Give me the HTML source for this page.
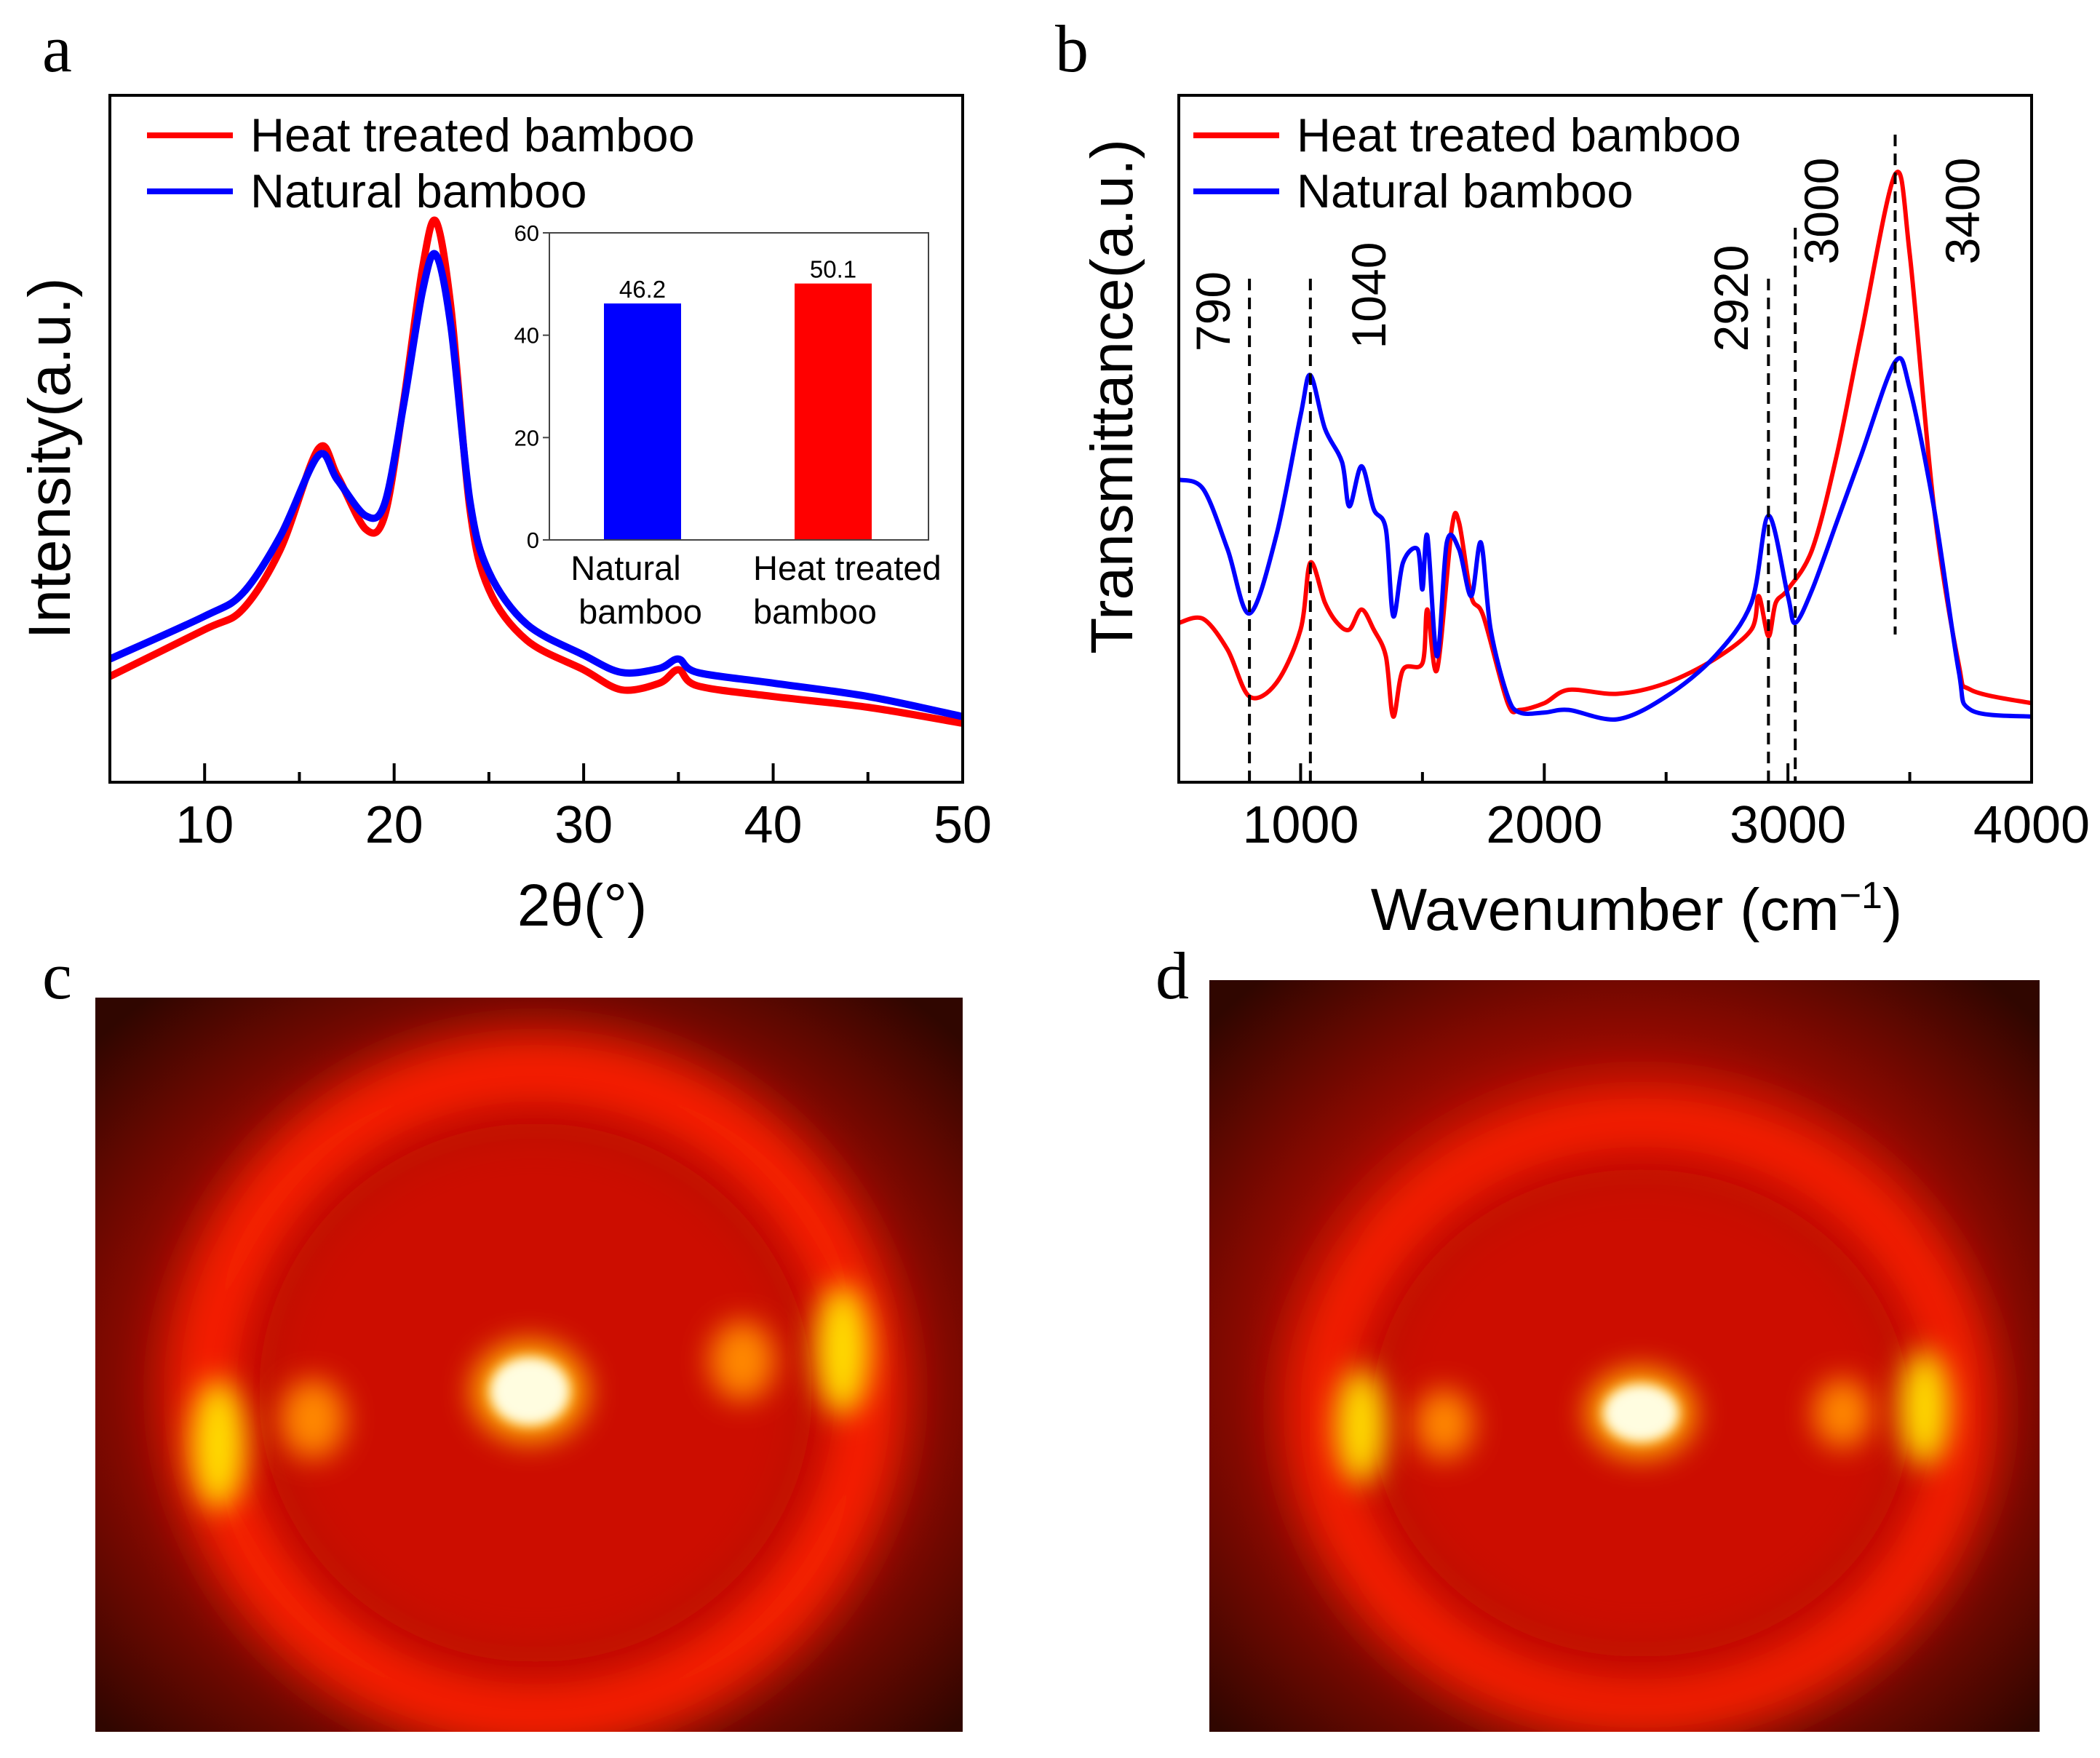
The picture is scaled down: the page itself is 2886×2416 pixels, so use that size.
<!DOCTYPE html>
<html><head><meta charset="utf-8">
<style>
html,body{margin:0;padding:0;background:#fff;}
svg{display:block;}
text{font-family:"Liberation Sans",sans-serif;fill:#000;}
.serif{font-family:"Liberation Serif",serif;}
</style></head>
<body>
<svg id="fig" width="2886" height="2416" viewBox="0 0 2886 2416" xmlns="http://www.w3.org/2000/svg">
<defs>
  <filter id="b20" x="-50%" y="-50%" width="200%" height="200%"><feGaussianBlur stdDeviation="20"/></filter>
  <filter id="b40" x="-50%" y="-50%" width="200%" height="200%"><feGaussianBlur stdDeviation="35"/></filter>
  <filter id="b10" x="-50%" y="-50%" width="200%" height="200%"><feGaussianBlur stdDeviation="8"/></filter>
  <radialGradient id="bgC" cx="50%" cy="52%" r="68%">
    <stop offset="0" stop-color="#c00c00"/><stop offset="0.6" stop-color="#a00a00"/><stop offset="1" stop-color="#300600"/>
  </radialGradient>
  <clipPath id="clipC"><rect x="131" y="1371" width="1192" height="1009"/></clipPath>
  <clipPath id="clipD"><rect x="1662" y="1347" width="1141" height="1033"/></clipPath>
</defs>

<text class="serif" x="58" y="98" font-size="92">a</text>
<text class="serif" x="1450" y="98" font-size="92">b</text>
<text class="serif" x="58" y="1372" font-size="92">c</text>
<text class="serif" x="1588" y="1372" font-size="92">d</text>

<g id="pa"></g>
<g id="pb"></g>

<g clip-path="url(#clipC)">
  <rect x="131" y="1371" width="1192" height="1009" fill="url(#bgC)"/>
  <ellipse cx="736" cy="1914" rx="450" ry="440" fill="none" stroke="#ff2200" stroke-width="100" filter="url(#b40)"/>
  <ellipse cx="736" cy="1914" rx="380" ry="370" fill="#cc0e00" filter="url(#b40)"/>
  <ellipse cx="300" cy="1985" rx="38" ry="90" fill="#ffdd00" filter="url(#b20)"/>
  <ellipse cx="1158" cy="1855" rx="38" ry="90" fill="#ffdd00" filter="url(#b20)"/>
  <ellipse cx="430" cy="1950" rx="45" ry="55" fill="#ff8800" filter="url(#b20)"/>
  <ellipse cx="1020" cy="1870" rx="45" ry="55" fill="#ff8800" filter="url(#b20)"/>
  <ellipse cx="728" cy="1912" rx="80" ry="70" fill="#ffaa00" filter="url(#b20)"/>
  <ellipse cx="728" cy="1912" rx="55" ry="47" fill="#fffde0" filter="url(#b10)"/>
</g>
<g clip-path="url(#clipD)">
  <rect x="1662" y="1347" width="1141" height="1033" fill="url(#bgC)"/>
  <ellipse cx="2255" cy="1942" rx="435" ry="400" fill="none" stroke="#ff2200" stroke-width="90" filter="url(#b40)"/>
  <ellipse cx="2255" cy="1942" rx="370" ry="335" fill="#cc0e00" filter="url(#b40)"/>
  <ellipse cx="1870" cy="1960" rx="35" ry="80" fill="#ffdd00" filter="url(#b20)"/>
  <ellipse cx="2645" cy="1935" rx="35" ry="80" fill="#ffdd00" filter="url(#b20)"/>
  <ellipse cx="1985" cy="1957" rx="40" ry="48" fill="#ff8800" filter="url(#b20)"/>
  <ellipse cx="2532" cy="1942" rx="40" ry="48" fill="#ff8800" filter="url(#b20)"/>
  <ellipse cx="2255" cy="1942" rx="75" ry="62" fill="#ffaa00" filter="url(#b20)"/>
  <ellipse cx="2255" cy="1942" rx="52" ry="40" fill="#fffde0" filter="url(#b10)"/>
</g>
</svg>

<script>
// ---- XRD data (panel a) ----
const xrdAngles = [5,10,12,14,16,17,18.5,19.5,20.5,21.5,22.2,23,24,25,27,30,32,34,35,36,40,45,50];
const xrdHeat   = [79,114,129,174,249,229,189,199,284,384,419,354,204,144,106,84,69,74,84,72,64,56,44];
const xrdNatural= [92,124,141,184,244,226,199,208,282,367,394,340,210,157,118,95,82,85,92,82,74,64,49];
const xrdTicks  = [10,20,30,40,50];
// ---- inset crystallinity ----
const insetCats = ["Natural bamboo","Heat treated bamboo"];
const insetVals = [46.2,50.1];
const insetTicks= [0,20,40,60];
// ---- FTIR data (panel b) ----
const ftirWaveB = [500,600,700,790,900,1000,1040,1100,1170,1200,1250,1300,1350,1380,1420,1480,1500,1520,1560,1600,1650,1700,1740,1780,1850,1900,2000,2100,2300,2500,2700,2850,2920,3000,3030,3100,3200,3300,3440,3500,3600,3700,3750,4000];
const ftirNatural=[226,219,174,126,184,274,304,264,239,206,236,204,189,124,164,174,144,184,94,179,174,139,179,114,64,52,52,54,47,64,94,134,199,139,119,144,194,244,314,294,204,84,54,49];
const ftirWaveR = [500,600,700,790,900,1000,1040,1100,1150,1200,1250,1300,1350,1380,1420,1500,1520,1560,1620,1650,1700,1750,1850,1900,2000,2100,2300,2500,2700,2850,2880,2920,2950,3000,3100,3200,3300,3440,3500,3600,3700,3750,4000];
const ftirHeat   =[119,122,99,64,74,114,164,134,119,114,129,114,94,49,84,89,129,84,189,194,139,124,59,54,59,69,66,74,92,114,139,109,134,144,174,244,334,454,394,204,89,69,59];
const ftirTicks = [1000,2000,3000,4000];
const ftirMarks = [790,1040,2920,3030,3440];
const ftirMarkLabels = ["790","1040","2920","3000","3400"];

const NS="http://www.w3.org/2000/svg";
function mk(parent,tag,attrs,txt){const e=document.createElementNS(NS,tag);for(const k in attrs)e.setAttribute(k,attrs[k]);if(txt!==undefined)e.textContent=txt;parent.appendChild(e);return e;}

function axesFrame(g,L,T,R,B){
  const f=mk(g,'rect',{x:L,y:T,width:R-L,height:B-T,fill:'none',stroke:'#000','stroke-width':4});
  
  
}
function line(g,xs,ys,sx,sy,color,w,name){
  const P=xs.map((x,i)=>[sx(x),sy(ys[i])]);
  let d='M'+P[0][0].toFixed(1)+','+P[0][1].toFixed(1);
  for(let i=0;i<P.length-1;i++){
    const p0=P[Math.max(0,i-1)],p1=P[i],p2=P[i+1],p3=P[Math.min(P.length-1,i+2)];
    const t=0.16;
    const c1=[p1[0]+(p2[0]-p0[0])*t,p1[1]+(p2[1]-p0[1])*t];
    const c2=[p2[0]-(p3[0]-p1[0])*t,p2[1]-(p3[1]-p1[1])*t];
    d+='C'+c1[0].toFixed(1)+','+c1[1].toFixed(1)+' '+c2[0].toFixed(1)+','+c2[1].toFixed(1)+' '+p2[0].toFixed(1)+','+p2[1].toFixed(1);
  }
  const p=mk(g,'path',{d:d,fill:'none',stroke:color,'stroke-width':w,'stroke-linejoin':'round'});
  
  
}
function legend(g,x,y,items){
  items.forEach((it,i)=>{
    const yy=y+i*77;
    const l=mk(g,'line',{x1:x,y1:yy,x2:x+118,y2:yy,stroke:it[1],'stroke-width':8});
    
    
    const t=mk(g,'text',{x:x+142,y:yy+22,'font-size':65},it[0]);
    
    
  });
}

// ===== Panel a =====
(function(){
  const g=document.getElementById('pa');
  const L=151,T=131,R=1323,B=1075;
  const sx=v=>L+(v-5)/45*(R-L), sy=v=>B-v/513*(B-T);
  line(g,xrdAngles,xrdHeat,sx,sy,'#ff0000',10,'heat-treated-xrd-line');
  line(g,xrdAngles,xrdNatural,sx,sy,'#0000ff',10,'natural-xrd-line');
  axesFrame(g,L,T,R,B);
  for(let v=10;v<50;v+=5){
    const major=v%10===0;
    const tk=mk(g,'line',{x1:sx(v),y1:B,x2:sx(v),y2:B-(major?26:14),stroke:'#000','stroke-width':4});
    
    
  }
  xrdTicks.forEach(v=>{
    const t=mk(g,'text',{x:sx(v),y:1158,'font-size':72,'text-anchor':'middle'},String(v));
    
    
  });
  const xt=mk(g,'text',{x:800,y:1272,'font-size':82,'text-anchor':'middle'},'2θ(°)');
  
  
  const yt=mk(g,'text',{x:0,y:0,'font-size':82,'text-anchor':'middle',transform:'translate(96,630) rotate(-90)'},'Intensity(a.u.)');
  
  
  legend(g,202,186,[['Heat treated bamboo','#ff0000','heat'],['Natural bamboo','#0000ff','natural']]);
  const iL=755,iT=320,iR=1276,iB=742;
  const iy=v=>iB-v/60*(iB-iT);
  const cx=[883,1145];
  const colors=['#0000ff','#ff0000'];
  insetVals.forEach((v,i)=>{
    const r=mk(g,'rect',{x:cx[i]-53,y:iy(v),width:106,height:iB-iy(v),fill:colors[i]});
    
    
    const t=mk(g,'text',{x:cx[i],y:iy(v)-8,'font-size':33,'text-anchor':'middle'},v.toFixed(1));
    
    
  });
  const fr=mk(g,'rect',{x:iL,y:iT,width:iR-iL,height:iB-iT,fill:'none',stroke:'#444','stroke-width':2});
  
  
  insetTicks.forEach(v=>{
    const tk=mk(g,'line',{x1:iL,y1:iy(v),x2:iL-9,y2:iy(v),stroke:'#444','stroke-width':2});
    
    
    const t=mk(g,'text',{x:iL-14,y:iy(v)+11,'font-size':31,'text-anchor':'end'},String(v));
    
    
  });
  const c1=mk(g,'text',{x:860,y:797,'font-size':47,'text-anchor':'middle'},'Natural');
  
  
  const c2=mk(g,'text',{x:880,y:857,'font-size':47,'text-anchor':'middle'},'bamboo');
  
  
  const c3=mk(g,'text',{x:1035,y:797,'font-size':47},'Heat treated');
  
  
  const c4=mk(g,'text',{x:1035,y:857,'font-size':47},'bamboo');
  
  
})();

// ===== Panel b =====
(function(){
  const g=document.getElementById('pb');
  const L=1620,T=131,R=2792,B=1075;
  const sx=v=>L+(v-500)/3500*(R-L), sy=v=>B-v/513*(B-T);
  line(g,ftirWaveR,ftirHeat,sx,sy,'#ff0000',6,'heat-treated-ftir-line');
  line(g,ftirWaveB,ftirNatural,sx,sy,'#0000ff',6,'natural-ftir-line');
  const tops=[383,383,383,313,185], bots=[B,B,B,B,872];
  ftirMarks.forEach((w,i)=>{
    const l=mk(g,'line',{x1:sx(w),y1:tops[i],x2:sx(w),y2:bots[i],stroke:'#000','stroke-width':4,'stroke-dasharray':'16,10'});
    
    
  });
  const lp=[[1666,428],[1880,406],[2378,410],[2502,290],[2696,290]];
  ftirMarkLabels.forEach((s,i)=>{
    const t=mk(g,'text',{x:0,y:0,'font-size':66,'text-anchor':'middle',transform:'translate('+(lp[i][0]+24)+','+lp[i][1]+') rotate(-90)'},s);
    
    
  });
  axesFrame(g,L,T,R,B);
  for(let v=500;v<4000;v+=500){
    const major=v%1000===0;
    const tk=mk(g,'line',{x1:sx(v),y1:B,x2:sx(v),y2:B-(major?26:14),stroke:'#000','stroke-width':4});
    
    
  }
  ftirTicks.forEach(v=>{
    const t=mk(g,'text',{x:sx(v),y:1158,'font-size':72,'text-anchor':'middle'},String(v));
    
    
  });
  const xt=mk(g,'text',{x:2249,y:1278,'font-size':82,'text-anchor':'middle'});
  
  
  xt.innerHTML='Wavenumber (cm<tspan dy="-30" font-size="52">−1</tspan><tspan dy="30">)</tspan>';
  const yt=mk(g,'text',{x:0,y:0,'font-size':82,'text-anchor':'middle',transform:'translate(1556,545) rotate(-90)'},'Transmittance(a.u.)');
  
  
  legend(g,1640,186,[['Heat treated bamboo','#ff0000','heat'],['Natural bamboo','#0000ff','natural']]);
})();
</script>
</body></html>
